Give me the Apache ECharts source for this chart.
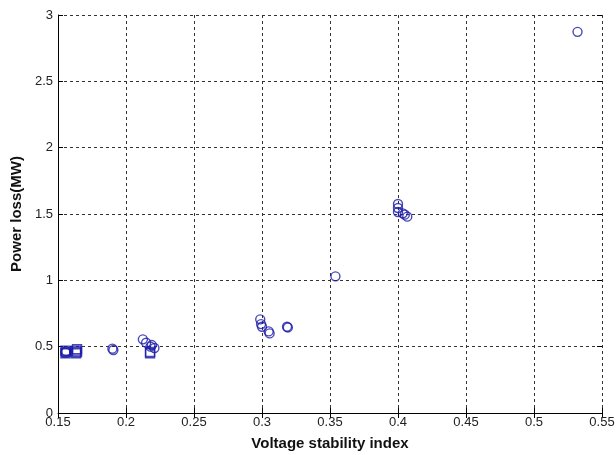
<!DOCTYPE html>
<html>
<head>
<meta charset="utf-8">
<script src="https://cdn.jsdelivr.net/npm/echarts@6/dist/echarts.min.js"></script>
<style>
  html, body { margin: 0; padding: 0; background: #fff; }
  #chart { width: 616px; height: 455px; }
</style>
</head>
<body>
<div id="chart"></div>
<script>
// points (circles and squares)
var circleX = [0.532, 0.354, 0.400, 0.400, 0.400, 0.4035, 0.4068, 0.405,
  0.2987, 0.2993, 0.300, 0.3049, 0.3056, 0.3184, 0.3190,
  0.2124, 0.2148, 0.219, 0.2209, 0.218, 0.1907, 0.1900, 0.156, 0.1555];
var circleY = [2.873, 1.03, 1.575, 1.545, 1.515, 1.505, 1.48, 1.495,
  0.706, 0.67, 0.65, 0.615, 0.60, 0.65, 0.645,
  0.555, 0.53, 0.512, 0.49, 0.50, 0.475, 0.485, 0.465, 0.455];
var squareX = [0.1555, 0.156, 0.1555, 0.1633, 0.164, 0.1633, 0.164, 0.2177, 0.2177];
var squareY = [0.45, 0.46, 0.47, 0.45, 0.46, 0.47, 0.48, 0.45, 0.46];

var xTicks = { min: 0.15, max: 0.55, step: 0.05 };
var yTicks = { min: 0, max: 3, step: 0.5 };

var blue = '#1a1aa8';

function pairs(xs, ys) {
  return xs.map(function (x, i) { return [x, ys[i]]; });
}

var myChart = echarts.init(document.getElementById('chart'));

var gridLine = { show: true, lineStyle: { color: '#333', type: [3, 3], width: 1 } };

var option = {
  animation: false,
  backgroundColor: '#fff',
  grid: { left: 58, right: 14, top: 15, bottom: 42, outerBoundsMode: 'none', containLabel: false },
  xAxis: [{
    type: 'value',
    min: xTicks.min, max: xTicks.max, interval: xTicks.step,
    name: 'Voltage stability index',
    nameLocation: 'middle',
    nameGap: 23,
    nameTextStyle: { fontFamily: 'Liberation Sans', fontWeight: 'bold', fontSize: 15, color: '#111' },
    axisLine: { show: true, onZero: false, lineStyle: { color: '#000', width: 1 } },
    axisTick: { show: true, inside: true, length: 5, lineStyle: { color: '#000' } },
    axisLabel: { fontFamily: 'Liberation Sans', fontSize: 13, color: '#222', margin: 3 },
    splitLine: gridLine
  }, {
    type: 'value', position: 'top',
    min: xTicks.min, max: xTicks.max, interval: xTicks.step,
    axisLine: { show: false },
    axisTick: { show: true, inside: true, length: 5, lineStyle: { color: '#000' } },
    axisLabel: { show: false },
    splitLine: { show: false }
  }],
  yAxis: [{
    type: 'value',
    min: yTicks.min, max: yTicks.max, interval: yTicks.step,
    name: 'Power loss(MW)',
    nameLocation: 'middle',
    nameGap: 31,
    nameTextStyle: { fontFamily: 'Liberation Sans', fontWeight: 'bold', fontSize: 15, color: '#111' },
    axisLine: { show: true, onZero: false, lineStyle: { color: '#000', width: 1 } },
    axisTick: { show: true, inside: true, length: 5, lineStyle: { color: '#000' } },
    axisLabel: { fontFamily: 'Liberation Sans', fontSize: 13, color: '#222', margin: 5 },
    splitLine: gridLine
  }, {
    type: 'value', position: 'right',
    min: yTicks.min, max: yTicks.max, interval: yTicks.step,
    axisLine: { show: false },
    axisTick: { show: true, inside: true, length: 5, lineStyle: { color: '#000' } },
    axisLabel: { show: false },
    splitLine: { show: false }
  }],
  series: [
    {
      type: 'scatter',
      data: pairs(circleX, circleY),
      symbol: 'circle',
      symbolSize: 9,
      itemStyle: { color: 'transparent', borderColor: blue, borderWidth: 1.4 }
    },
    {
      type: 'scatter',
      data: pairs(squareX, squareY),
      symbol: 'rect',
      symbolSize: 9,
      itemStyle: { color: 'transparent', borderColor: blue, borderWidth: 1.4 }
    }
  ]
};

myChart.setOption(option);
</script>
</body>
</html>
